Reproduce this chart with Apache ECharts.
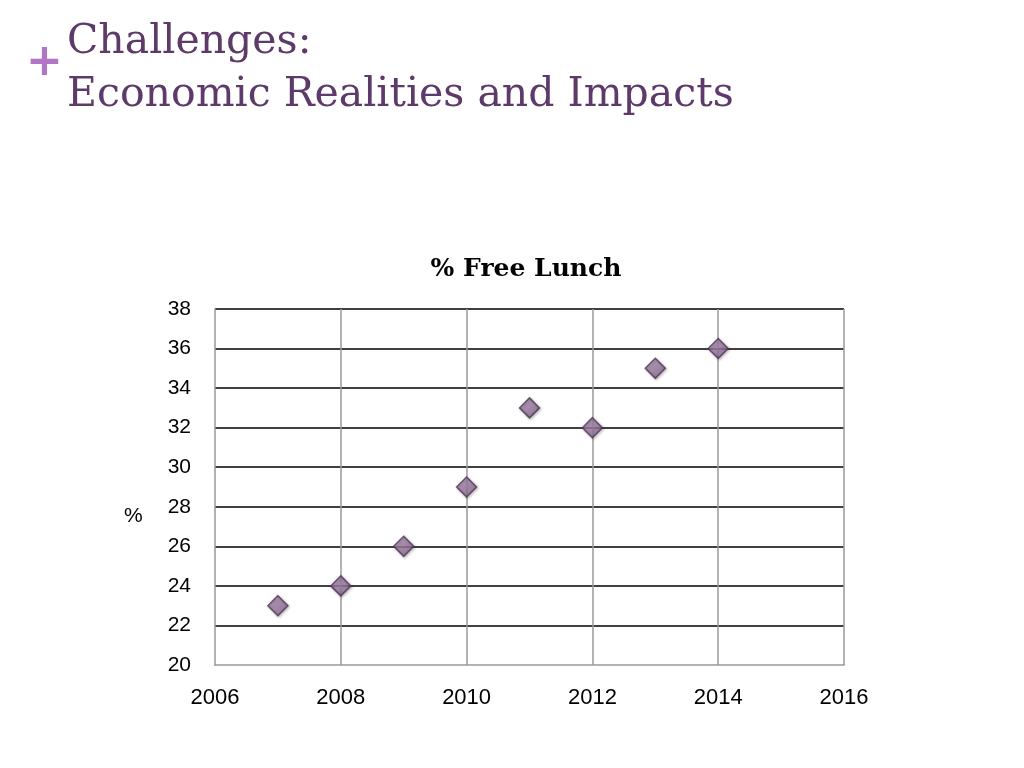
<!DOCTYPE html>
<html><head><meta charset="utf-8">
<script src="https://cdn.jsdelivr.net/npm/echarts@6/dist/echarts.min.js"></script>
<style>html,body{margin:0;padding:0;background:#fff}#c{width:1024px;height:768px}</style>
</head><body><div id="c"></div>
<script>
const years = [2007, 2008, 2009, 2010, 2011, 2012, 2013, 2014];
const freeLunchPct = [23, 24, 26, 29, 33, 32, 35, 36];
const chart = echarts.init(document.getElementById('c'));
chart.setOption({
  animation: false,
  backgroundColor: '#fff',
  graphic: [
    {type:'text', left: 26, top: 42, style:{text:'+', font:'bold 44px "DejaVu Sans"', fill:'#b274c4'}},
    {type:'text', left: 67, top: 22, style:{text:'Challenges:', font:'41px "DejaVu Serif"', fill:'#5e3a6a'}},
    {type:'text', left: 67, top: 75, style:{text:'Economic Realities and Impacts', font:'41px "DejaVu Serif"', fill:'#5e3a6a'}},
    {type:'text', left: 124, top: 506, style:{text:'%', font:'21px "Liberation Sans"', fill:'#000'}}
  ],
  title: {
    text: '% Free Lunch', left: 521, textAlign: 'center', top: 252,
    textStyle: {fontFamily: '"DejaVu Serif"', fontWeight: 'bold', fontSize: 25, color: '#000'}
  },
  grid: {left: 215, right: 180, top: 309, bottom: 103},
  xAxis: {
    type: 'value', min: 2006, max: 2016, interval: 2,
    axisLine: {show: true, lineStyle: {color: '#999', width: 1.5}},
    axisTick: {show: false},
    axisLabel: {margin: 22, fontSize: 22, color: '#000', fontFamily: '"Liberation Sans"', formatter: v => String(v)},
    splitLine: {show: true, showMinLine: false, lineStyle: {color: '#9a9a9a', width: 1.5}}
  },
  yAxis: {
    type: 'value', min: 20, max: 38, interval: 2,
    axisLine: {show: true, lineStyle: {color: '#999', width: 1.5}},
    axisTick: {show: false},
    axisLabel: {margin: 24, fontSize: 21, color: '#000', fontFamily: '"Liberation Sans"'},
    splitLine: {show: true, showMinLine: false, lineStyle: {color: '#000', width: 1.5}}
  },
  series: [{
    type: 'scatter',
    data: years.map((y, i) => [y, freeLunchPct[i]]),
    symbol: 'diamond', symbolSize: 20,
    itemStyle: {
      color: new echarts.graphic.LinearGradient(0, 0, 1, 1, [
        {offset: 0, color: '#b89abd'}, {offset: 1, color: '#7d5a84'}
      ]),
      borderColor: '#4f3556', borderWidth: 1.5,
      shadowColor: 'rgba(0,0,0,0.3)', shadowBlur: 3, shadowOffsetX: 1, shadowOffsetY: 1
    }
  }]
});
</script></body></html>
